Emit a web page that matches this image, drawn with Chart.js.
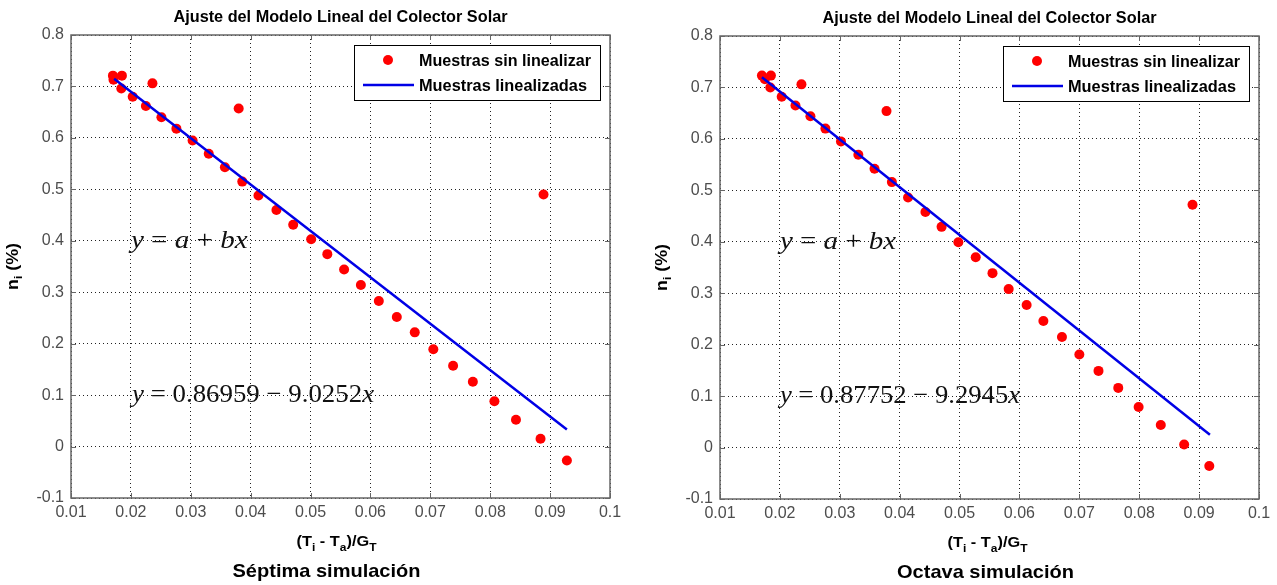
<!DOCTYPE html>
<html>
<head>
<meta charset="utf-8">
<script src="https://cdn.jsdelivr.net/npm/chart.js@4"></script>
<style>
  body { margin: 0; background: #fff; width: 1277px; height: 585px; overflow: hidden; position: relative; }
  canvas { position: absolute; }
  #c1 { left: 0; top: 0; }
  #c2 { left: 649px; top: 1px; }
</style>
</head>
<body>
<canvas id="c1" width="628" height="585"></canvas>
<canvas id="c2" width="628" height="585"></canvas>
<script>
// axis ticks
const xTicks = [0.01, 0.02, 0.03, 0.04, 0.05, 0.06, 0.07, 0.08, 0.09, 0.1];
const xTickLabels = ['0.01', '0.02', '0.03', '0.04', '0.05', '0.06', '0.07', '0.08', '0.09', '0.1'];
const yTicks = [-0.1, 0, 0.1, 0.2, 0.3, 0.4, 0.5, 0.6, 0.7, 0.8];
const yTickLabels = ['-0.1', '0', '0.1', '0.2', '0.3', '0.4', '0.5', '0.6', '0.7', '0.8'];

const seriesLabels = ['Muestras sin linealizar', 'Muestras linealizadas'];

// Séptima simulación
const septX = [0.0170, 0.0171, 0.0185, 0.0184, 0.0203, 0.0236, 0.0225, 0.0251, 0.0276, 0.0303,
  0.0330, 0.0357, 0.0380, 0.0386, 0.0413, 0.0443, 0.0471, 0.0501, 0.0528, 0.0556,
  0.0584, 0.0614, 0.0644, 0.0674, 0.0705, 0.0738, 0.0771, 0.0807, 0.0843, 0.0884,
  0.0889, 0.0928];
const septY = [0.721, 0.713, 0.721, 0.696, 0.680, 0.706, 0.662, 0.640, 0.618, 0.595,
  0.569, 0.543, 0.657, 0.515, 0.488, 0.460, 0.431, 0.403, 0.374, 0.344,
  0.314, 0.283, 0.252, 0.222, 0.189, 0.157, 0.126, 0.088, 0.052, 0.015,
  0.490, -0.027];
const septLineX = [0.0172, 0.0928];
const septLineY = [0.715, 0.033];

// Octava simulación
const octX = [0.0170, 0.0175, 0.0185, 0.0184, 0.0203, 0.0236, 0.0226, 0.0251, 0.0276, 0.0302,
  0.0331, 0.0358, 0.0378, 0.0387, 0.0414, 0.0443, 0.0470, 0.0498, 0.0527, 0.0555,
  0.0582, 0.0612, 0.0640, 0.0671, 0.0700, 0.0732, 0.0765, 0.0799, 0.0836, 0.0875,
  0.0889, 0.0917];
const octY = [0.723, 0.716, 0.723, 0.700, 0.682, 0.706, 0.665, 0.644, 0.620, 0.595,
  0.569, 0.542, 0.654, 0.516, 0.486, 0.458, 0.429, 0.399, 0.370, 0.339,
  0.308, 0.277, 0.246, 0.215, 0.181, 0.149, 0.116, 0.079, 0.044, 0.006,
  0.472, -0.036];
const octLineX = [0.0170, 0.0918];
const octLineY = [0.720, 0.025];

const SANS = '"Liberation Sans", Arial, sans-serif';
const SERIF = '"Liberation Serif", "Times New Roman", serif';

// draw a run of text pieces (different fonts / offsets), squeezed to width w
function drawRuns(ctx, runs, x, y, w, align) {
  let total = 0;
  runs.forEach(r => { ctx.font = r.f; r.w = ctx.measureText(r.t).width; total += r.w; });
  const s = w ? w / total : 1;
  ctx.save();
  ctx.translate(align === 'center' ? x - total * s / 2 : x, y);
  ctx.scale(s, 1);
  ctx.textAlign = 'left';
  ctx.textBaseline = 'alphabetic';
  let cx = 0;
  runs.forEach(r => { ctx.font = r.f; ctx.fillText(r.t, cx, r.dy || 0); cx += r.w; });
  ctx.restore();
}

const decor = {
  id: 'decor',
  afterDraw(chart, args, o) {
    const { ctx, chartArea: ca, scales: { x, y } } = chart;
    const mid = (ca.left + ca.right) / 2;
    ctx.save();
    ctx.setLineDash([]);

    // axes box with inward ticks
    ctx.strokeStyle = '#666';
    ctx.lineWidth = 1.5;
    ctx.strokeRect(ca.left, ca.top, ca.right - ca.left, ca.bottom - ca.top);
    ctx.lineWidth = 1;
    ctx.beginPath();
    xTicks.forEach(v => {
      const px = Math.round(x.getPixelForValue(v)) + 0.5;
      ctx.moveTo(px, ca.bottom); ctx.lineTo(px, ca.bottom - 5);
      ctx.moveTo(px, ca.top); ctx.lineTo(px, ca.top + 5);
    });
    yTicks.forEach(v => {
      const py = Math.round(y.getPixelForValue(v)) + 0.5;
      ctx.moveTo(ca.left, py); ctx.lineTo(ca.left + 5, py);
      ctx.moveTo(ca.right, py); ctx.lineTo(ca.right - 5, py);
    });
    ctx.stroke();

    ctx.fillStyle = '#000';
    // title
    drawRuns(ctx, [{ t: 'Ajuste del Modelo Lineal del Colector Solar', f: 'bold 16px ' + SANS }],
      mid, 22, 334, 'center');

    // legend
    const ds = chart.data.datasets;
    const bw = 246, bh = 55;
    const bx = ca.right - 10 - bw, by = ca.top + 10;
    ctx.fillStyle = '#fff';
    ctx.fillRect(bx, by, bw, bh);
    ctx.strokeStyle = '#000';
    ctx.lineWidth = 1;
    ctx.strokeRect(bx + 0.5, by + 0.5, bw, bh);
    ctx.fillStyle = ds[0].backgroundColor;
    ctx.beginPath();
    ctx.arc(bx + 34, by + 15, ds[0].pointRadius, 0, Math.PI * 2);
    ctx.fill();
    ctx.strokeStyle = ds[1].borderColor;
    ctx.lineWidth = ds[1].borderWidth;
    ctx.beginPath();
    ctx.moveTo(bx + 9, by + 40); ctx.lineTo(bx + 60, by + 40);
    ctx.stroke();
    ctx.fillStyle = '#000';
    drawRuns(ctx, [{ t: ds[0].label, f: 'bold 17px ' + SANS }], bx + 65, by + 21, 172);
    drawRuns(ctx, [{ t: ds[1].label, f: 'bold 17px ' + SANS }], bx + 65, by + 46, 168);

    // fit equations
    ctx.fillStyle = '#111';
    o.eqs.forEach(eq => {
      const x0 = x.getPixelForValue(eq.x0), x1 = x.getPixelForValue(eq.x1);
      const py = y.getPixelForValue(eq.y) + 7;
      drawRuns(ctx, eq.runs.map(r => ({ t: r[0], f: (r[1] ? 'italic ' : '') + '26px ' + SERIF })),
        x0, py, x1 - x0);
    });

    // axis titles
    ctx.fillStyle = '#000';
    drawRuns(ctx, [
      { t: '(T', f: 'bold 15px ' + SANS },
      { t: 'i', f: 'bold 11px ' + SANS, dy: 5 },
      { t: ' - T', f: 'bold 15px ' + SANS },
      { t: 'a', f: 'bold 11px ' + SANS, dy: 5 },
      { t: ')/G', f: 'bold 15px ' + SANS },
      { t: 'T', f: 'bold 11px ' + SANS, dy: 5 }
    ], mid + o.xTitleShift, 546, 80, 'center');

    ctx.save();
    ctx.translate(18, (ca.top + ca.bottom) / 2);
    ctx.rotate(-Math.PI / 2);
    drawRuns(ctx, [
      { t: 'n', f: 'bold 16px ' + SANS },
      { t: 'i', f: 'bold 11px ' + SANS, dy: 4 },
      { t: ' (%)', f: 'bold 16px ' + SANS }
    ], 0, 0, 47, 'center');
    ctx.restore();

    // caption
    drawRuns(ctx, [{ t: o.caption, f: 'bold 19px ' + SANS }], mid + o.captionShift, 577, o.captionWidth, 'center');
    ctx.restore();
  }
};

function makeChart(id, xs, ys, lx, ly, deco) {
  const pts = xs.map((v, i) => ({ x: v, y: ys[i] }));
  const line = lx.map((v, i) => ({ x: v, y: ly[i] }));
  return new Chart(document.getElementById(id), {
    type: 'scatter',
    data: {
      datasets: [
        {
          label: seriesLabels[0],
          data: pts,
          backgroundColor: '#ff0000',
          borderWidth: 0,
          pointRadius: 5,
          order: 1
        },
        {
          type: 'line',
          label: seriesLabels[1],
          data: line,
          borderColor: '#0000e6',
          borderWidth: 2.5,
          pointRadius: 0,
          fill: false,
          order: 0
        }
      ]
    },
    options: {
      responsive: false,
      animation: false,
      layout: { padding: { left: 0, right: 18, top: 35, bottom: 0 } },
      plugins: { legend: { display: false }, tooltip: { enabled: false }, decor: deco },
      scales: {
        x: {
          type: 'linear',
          min: 0.01,
          max: 0.1,
          afterBuildTicks: s => { s.ticks = xTicks.map(v => ({ value: v })); },
          afterFit: s => { s.height = 87; },
          ticks: {
            autoSkip: false,
            maxRotation: 0,
            padding: 5,
            color: '#4d4d4d',
            font: { family: SANS, size: 16 },
            callback: (v, i) => xTickLabels[i]
          },
          grid: { color: '#222', lineWidth: 1, drawTicks: false, borderDash: [1, 3] },
          border: { display: false, dash: [1, 3] }
        },
        y: {
          type: 'linear',
          min: -0.1,
          max: 0.8,
          afterBuildTicks: s => { s.ticks = yTicks.map(v => ({ value: v })); },
          afterFit: s => { s.width = 71; },
          ticks: {
            autoSkip: false,
            padding: 7,
            color: '#4d4d4d',
            font: { family: SANS, size: 16 },
            callback: (v, i) => yTickLabels[i]
          },
          grid: { color: '#222', lineWidth: 1, drawTicks: false, borderDash: [1, 3] },
          border: { display: false, dash: [1, 3] }
        }
      }
    },
    plugins: [decor]
  });
}

makeChart('c1', septX, septY, septLineX, septLineY, {
  caption: 'Séptima simulación',
  captionShift: -14,
  captionWidth: 188,
  xTitleShift: -4,
  eqs: [
    { x0: 0.02, x1: 0.0395, y: 0.4, runs: [['y', 1], [' = ', 0], ['a', 1], [' + ', 0], ['bx', 1]] },
    { x0: 0.0202, x1: 0.0606, y: 0.1, runs: [['y', 1], [' = 0.86959 \u2212 9.0252', 0], ['x', 1]] }
  ]
});

makeChart('c2', octX, octY, octLineX, octLineY, {
  caption: 'Octava simulación',
  captionShift: -4,
  captionWidth: 177,
  xTitleShift: -2,
  eqs: [
    { x0: 0.02, x1: 0.0394, y: 0.4, runs: [['y', 1], [' = ', 0], ['a', 1], [' + ', 0], ['bx', 1]] },
    { x0: 0.0200, x1: 0.0601, y: 0.1, runs: [['y', 1], [' = 0.87752 \u2212 9.2945', 0], ['x', 1]] }
  ]
});
</script>
</body>
</html>
